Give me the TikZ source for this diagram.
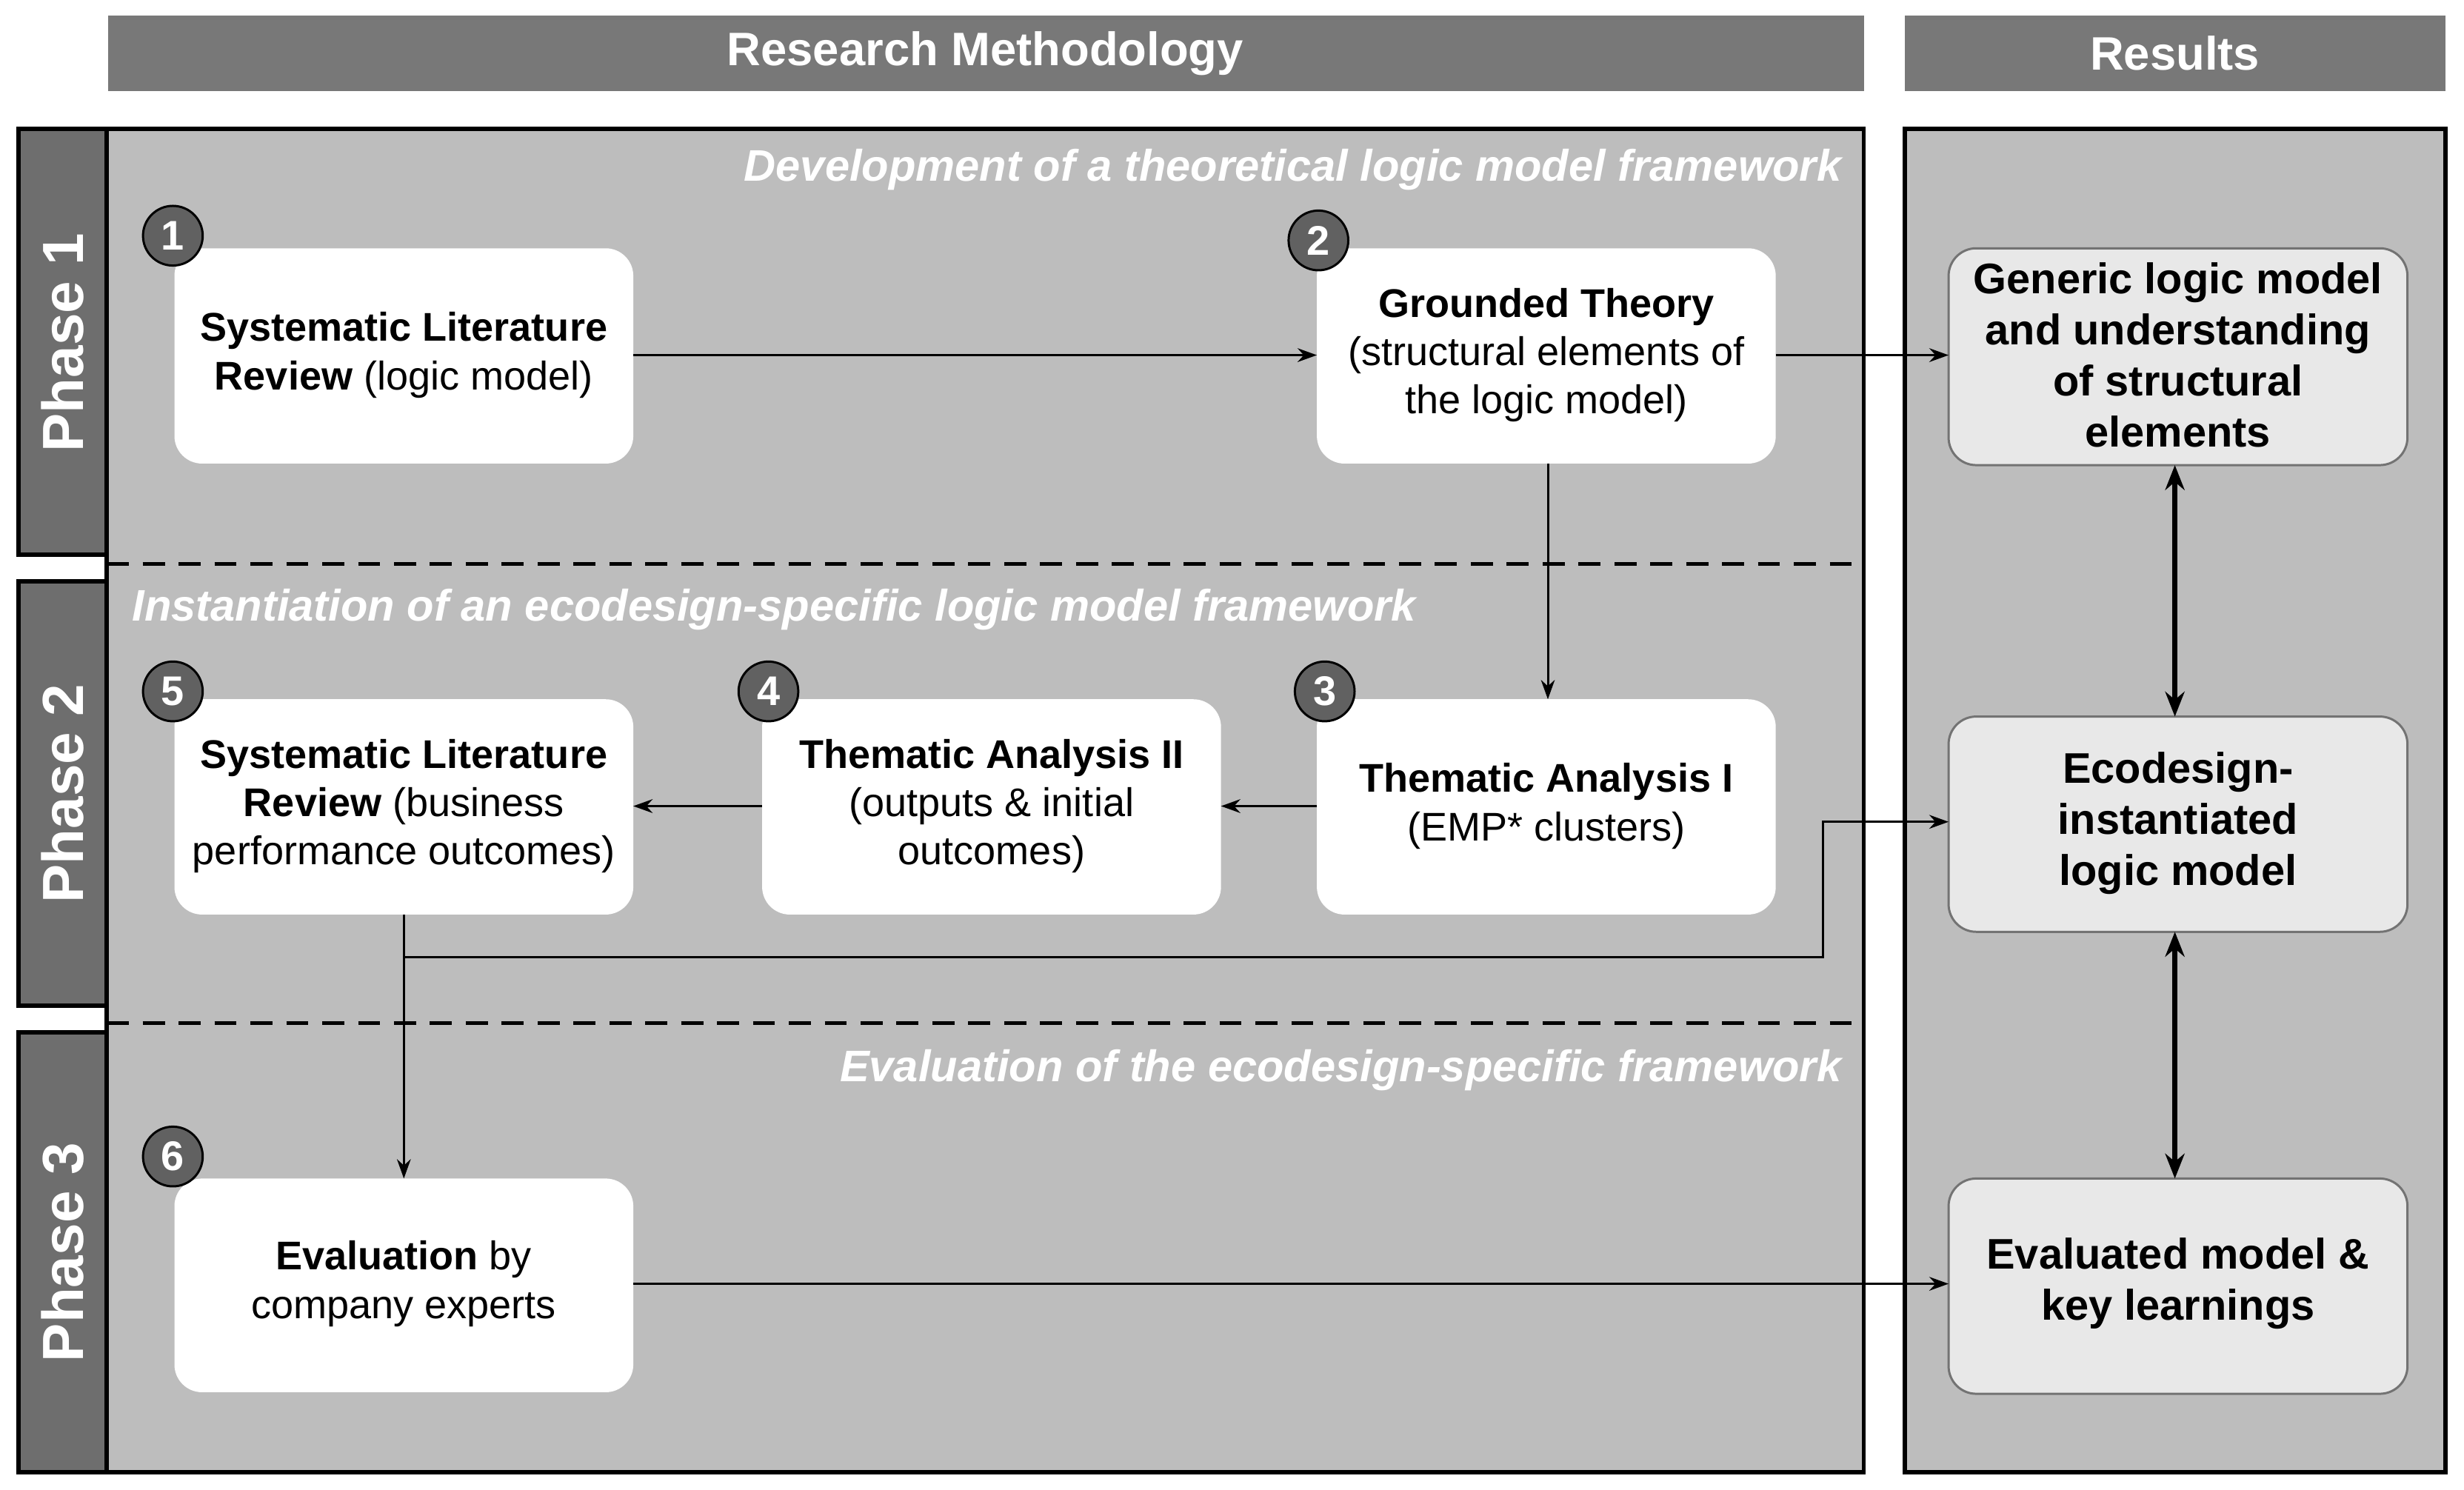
\documentclass[tikz,border=0pt]{standalone}
\usepackage{fontspec}
\setmainfont{Liberation Sans}
\usetikzlibrary{arrows.meta}
\begin{document}
\begin{tikzpicture}[x=0.02cm,y=-0.02cm,
 hdr/.style={fill=black!53,draw=none},
 panel/.style={fill=black!26,draw=black,line width=1.6pt},
 tab/.style={fill=black!57,draw=black,line width=1.6pt},
 box/.style={fill=white,draw=none,rounded corners=10pt},
 res/.style={fill=black!9,draw=black!55,line width=0.8pt,rounded corners=10pt},
 num/.style={circle,fill=black!62,draw=black,line width=0.8pt,inner sep=0pt,minimum size=0.76cm,text=white,font=\fontsize{15}{15}\selectfont\bfseries},
 txt/.style={align=center,font=\fontsize{14.5}{17.5}\selectfont},
 rtxt/.style={align=center,font=\fontsize{15.5}{18.5}\selectfont\bfseries},
 ital/.style={text=white,font=\fontsize{16}{16}\selectfont\bfseries\itshape},
 arr/.style={-{Stealth[length=7pt,width=5pt]},line width=0.8pt},
 darr/.style={{Stealth[length=9pt,width=7pt]}-{Stealth[length=9pt,width=7pt]},line width=2pt}]
\useasboundingbox (0,0) rectangle (1568,948);
\fill[white] (0,0) rectangle (1568,948);
\fill[hdr] (69,10) rectangle (1186,58);
\node[text=white,font=\fontsize{17}{17}\selectfont\bfseries] (h1) at (627,34) {Research Methodology};
\fill[hdr] (1212,10) rectangle (1556,58);
\node[text=white,font=\fontsize{17}{17}\selectfont\bfseries] (h2) at (1384,34) {Results};
\draw[panel] (68,82) rectangle (1186,937);
\draw[panel] (1212,82) rectangle (1556,937);
\draw[tab] (12,82) rectangle (68,353);
\draw[tab] (12,370) rectangle (68,640);
\draw[tab] (12,657) rectangle (68,937);
\node[rotate=90,text=white,font=\fontsize{21}{21}\selectfont\bfseries] (p1) at (40,218) {Phase 1};
\node[rotate=90,text=white,font=\fontsize{21}{21}\selectfont\bfseries] (p2) at (40,505) {Phase 2};
\node[rotate=90,text=white,font=\fontsize{21}{21}\selectfont\bfseries] (p3) at (40,797) {Phase 3};
\draw[dashed,line width=1.4pt,dash pattern=on 8pt off 5pt] (68,359) -- (1186,359);
\draw[dashed,line width=1.4pt,dash pattern=on 8pt off 5pt] (68,651) -- (1186,651);
\node[ital,anchor=east] (t1) at (1178,108) {Development of a theoretical logic model framework};
\node[ital,anchor=west] (t2) at (78,388) {Instantiation of an ecodesign-specific logic model framework};
\node[ital,anchor=east] (t3) at (1178,681) {Evaluation of the ecodesign-specific framework};
% boxes
\path[box] (111,158) rectangle (403,295); \node[txt] (b1) at (257,226) {\textbf{Systematic Literature}\\\textbf{Review} (logic model)};
\path[box] (838,158) rectangle (1130,295); \node[txt] (b2) at (984,226) {\textbf{Grounded Theory}\\(structural elements of\\the logic model)};
\path[box] (838,445) rectangle (1130,582); \node[txt] (b3) at (984,513) {\textbf{Thematic Analysis I}\\(EMP* clusters)};
\path[box] (485,445) rectangle (777,582); \node[txt] (b4) at (631,513) {\textbf{Thematic Analysis II}\\(outputs \& initial\\outcomes)};
\path[box] (111,445) rectangle (403,582); \node[txt] (b5) at (257,513) {\textbf{Systematic Literature}\\\textbf{Review} (business\\performance outcomes)};
\path[box] (111,750) rectangle (403,886); \node[txt] (b6) at (257,817) {\textbf{Evaluation} by\\company experts};
\node[num] (n1) at (110,150) {1};
\node[num] (n2) at (839,153) {2};
\node[num] (n3) at (843,440) {3};
\node[num] (n4) at (489,440) {4};
\node[num] (n5) at (110,440) {5};
\node[num] (n6) at (110,736) {6};
% results
\draw[res] (1240,158) rectangle (1532,296); \node[rtxt] (r1) at (1386,226) {Generic logic model\\and understanding\\of structural\\elements};
\draw[res] (1240,456) rectangle (1532,593); \node[rtxt] (r2) at (1386,524) {Ecodesign-\\instantiated\\logic model};
\draw[res] (1240,750) rectangle (1532,887); \node[rtxt] (r3) at (1386,817) {Evaluated model \&\\key learnings};
\coordinate (a1) at (403,226); \coordinate (a2) at (838,226);
\coordinate (a3) at (1130,226); \coordinate (a4) at (1240,226);
\coordinate (a5) at (985,295); \coordinate (a6) at (985,445);
\coordinate (a7) at (838,513); \coordinate (a8) at (777,513);
\coordinate (a9) at (485,513); \coordinate (a10) at (403,513);
\coordinate (a11) at (257,582); \coordinate (a12) at (257,750);
\coordinate (a13) at (257,609); \coordinate (a14) at (1160,609);
\coordinate (a15) at (1160,523); \coordinate (a16) at (1240,523);
\coordinate (a17) at (403,817); \coordinate (a18) at (1240,817);
\coordinate (a19) at (1384,296); \coordinate (a20) at (1384,456);
\coordinate (a21) at (1384,593); \coordinate (a22) at (1384,750);
\draw[arr] (a1) -- (a2);
\draw[arr] (a3) -- (a4);
\draw[arr] (a5) -- (a6);
\draw[arr] (a7) -- (a8);
\draw[arr] (a9) -- (a10);
\draw[arr] (a11) -- (a12);
\draw[arr] (a13) -- (a14) -- (a15) -- (a16);
\draw[arr] (a17) -- (a18);
\draw[darr] (a19) -- (a20);
\draw[darr] (a21) -- (a22);
\end{tikzpicture}
\end{document}
